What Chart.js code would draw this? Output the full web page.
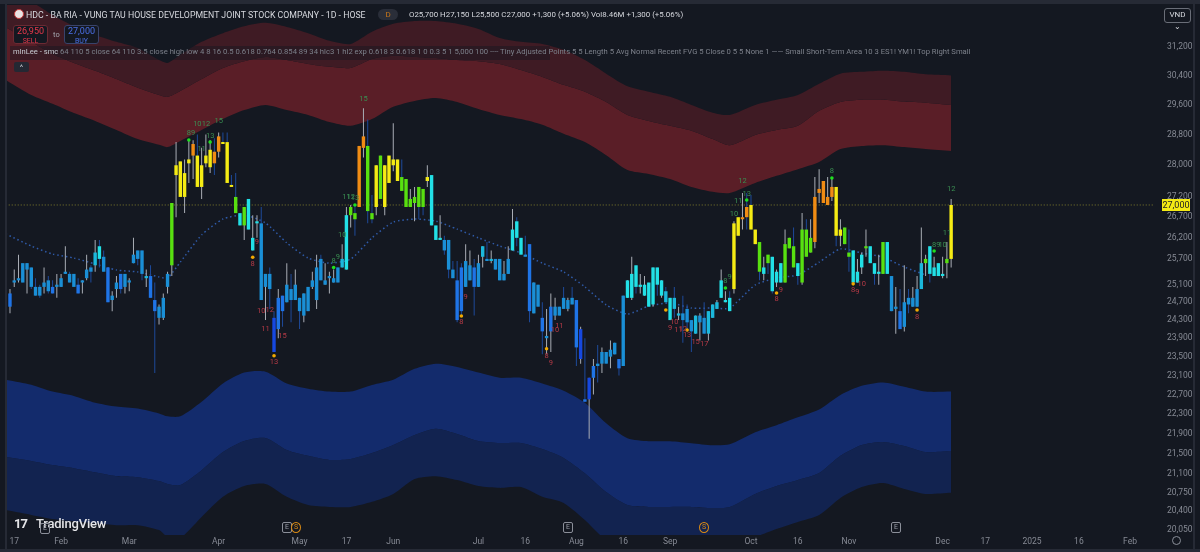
<!DOCTYPE html>
<html>
<head>
<meta charset="utf-8">
<title>HDC</title>
<script src="https://cdn.jsdelivr.net/npm/chart.js@4"></script>
<style>
html, body { margin: 0; padding: 0; background: #141821; overflow: hidden; }
#wrap { position: relative; width: 1200px; height: 552px; font-family: Roboto, sans-serif; }
canvas { position: absolute; left: 0; top: 0; }
.t { position: absolute; white-space: nowrap; line-height: 1; }
.box { position: absolute; box-sizing: border-box; border-radius: 3px; text-align: center; font-size: 9px; line-height: 9px; padding-top: 1px; }
.mark { position: absolute; box-sizing: border-box; width: 10px; height: 11px; border: 1px solid #8b8f99; border-radius: 2px; color: #9a9ea8; font-size: 7px; line-height: 9px; text-align: center; }
.frame { position: absolute; background: #262a35; }
</style>
</head>
<body>
<div id="wrap">
  <canvas id="grafico" width="1200" height="552"></canvas>

  <div class="frame" style="left:0;top:0;width:1200px;height:4px"></div>
  <div class="frame" style="left:5px;top:0;width:2px;height:552px"></div>
  <div class="frame" style="left:1193px;top:0;width:2px;height:552px"></div>
  <div class="frame" style="left:0;top:549px;width:1200px;height:3px"></div>

  <div style="position:absolute;left:14px;top:9px;width:10px;height:10px;border-radius:50%;background:#e9e3e3;border:1px solid #c83a3a;box-sizing:border-box"></div>
  <div class="t" style="left:26px;top:11px;font-size:8.75px;color:#d6d8de">HDC - BA RIA - VUNG TAU HOUSE DEVELOPMENT JOINT STOCK COMPANY - 1D - HOSE</div>
  <div class="t" style="left:378px;top:9px;width:20px;height:11px;border-radius:6px;background:#2a2e39;color:#c9771a;font-size:8px;line-height:11px;text-align:center">D</div>
  <div class="t" style="left:409px;top:11px;font-size:7.9px;color:#d6d8de">O25,700 H27,150 L25,500 C27,000 +1,300 (+5.06%) Vol8.46M +1,300 (+5.06%)</div>

  <div class="box" style="left:13px;top:25px;width:35px;height:19px;border:1px solid #6b2a33;color:#e8384a;background:#141821">26,950<br><span style="font-size:7px">SELL</span></div>
  <div class="t" style="left:53px;top:31px;font-size:7.5px;color:#a5a8b0">to</div>
  <div class="box" style="left:64px;top:25px;width:35px;height:19px;border:1px solid #39436b;color:#4a6fe8;background:#141821">27,000<br><span style="font-size:7px">BUY</span></div>

  <div style="position:absolute;left:10px;top:46px;width:540px;height:14px;background:rgba(20,24,33,.45)"></div>
  <div class="t" style="left:13px;top:48px;font-size:7.6px;color:#c9ccd3">mlnLee - smc</div>
  <div class="t" style="left:60px;top:48px;font-size:7.67px;color:#7d818b">64 110 5 close 64 110 3.5 close high low 4 8 16 0.5 0.618 0.764 0.854 89 34 hlc3 1 hl2 exp 0.618 3 0.618 1 0 0.3 5 1 5,000 100 ---- Tiny Adjusted Points 5 5 Length 5 Avg Normal Recent FVG 5 Close 0 5 5 None 1 —— Small Short-Term Area 10 3 ES1! YM1! Top Right Small</div>
  <div class="t" style="left:14px;top:62px;width:15px;height:10px;background:#242833;border-radius:2px;color:#c9ccd3;font-size:8px;line-height:11px;text-align:center">^</div>

  <div class="box" style="left:1164px;top:8px;width:27px;height:15px;border:1px solid #6a6e78;color:#d6d8de;font-size:8px;line-height:12px;padding-top:0">VND ⌄</div>

  <div class="t" style="left:14px;top:517px;font-size:13px;font-weight:700;color:#e4e5e8;letter-spacing:-1px">17</div>
  <div class="t" style="left:36px;top:517px;font-size:13px;font-weight:500;color:#e4e5e8;letter-spacing:-.2px">TradingView</div>

  <div class="mark" style="left:40px;top:523px">E</div>
  <div class="mark" style="left:282px;top:522px">E</div>
  <div class="mark" style="left:291px;top:522px;border-color:#d98a14;color:#d98a14;border-radius:50%">S</div>
  <div class="mark" style="left:563px;top:522px">E</div>
  <div class="mark" style="left:699px;top:522px;border-color:#d98a14;color:#d98a14;border-radius:50%">S</div>
  <div class="mark" style="left:891px;top:522px">E</div>
  <div style="position:absolute;left:1172px;top:536px;width:9px;height:9px;border:1px solid #8b8f99;border-radius:50%;box-sizing:border-box"></div>
</div>

<script>
// daily candles, prices in VND
const opens = [
    24600,25150,25200,25600,25450,25500,25050,25050,25050,25200,
    25050,25050,25050,25350,25350,25350,25100,25150,25250,25500,
    25550,26000,25750,25500,24750,25000,25350,25050,25150,25600,
    25900,25900,25250,25300,24750,24350,24350,25050,25550,27750,
    28100,27200,28050,28250,28250,27450,28050,27950,28350,28350,
    28600,28600,27500,27200,26800,26500,27150,25900,26550,26550,
    25050,25350,24350,24100,24850,24700,25000,24750,24800,24400,
    25050,25050,24750,25700,25100,25250,25150,25500,25500,25450,
    26750,26800,26950,28450,28500,26800,26950,28250,26950,28250,
    28000,28150,27700,27650,26950,27050,27450,27400,27600,27750,
    26500,26150,26150,26150,25450,25200,25500,25050,25200,25500,
    25050,25750,25700,25650,25700,25700,25200,25350,25900,26600,
    26200,25800,26050,24450,25100,24350,23900,24050,24400,24600,
    24800,24550,24800,24750,23450,22600,22600,23050,23350,23350,
    23600,23500,23550,23450,23300,24800,24800,25550,25050,24850,
    25150,24650,25500,24850,24950,24800,24800,24400,24450,24550,
    24300,24000,24250,24350,24000,24350,24550,24800,24700,24800,
    25000,26700,26650,26950,27000,26400,26100,25350,25800,25750,
    25150,25150,25150,25950,26000,25600,25150,26400,25850,26100,
    27300,27600,27000,27200,27450,26250,26450,25850,25900,25150,
    25500,25950,26000,25600,25350,25350,26100,25300,24550,24500,
    24150,24800,24600,24600,25000,25600,26000,25300,25600,25300,
    25600,25700
];
const highs = [
    25000,25450,25800,25600,25600,25500,25250,25100,25500,25300,
    25200,25350,25350,26000,25400,25350,25250,25200,25800,25550,
    26150,26150,25900,25500,24950,25300,25350,25350,25250,26200,
    25900,25900,25450,25550,25150,24650,24900,25400,27050,28600,
    28100,28150,28650,28650,28800,28450,28800,28650,28700,28850,
    28850,28850,27750,27800,26800,26950,27150,26750,26750,26950,
    25350,25500,24500,25000,24850,25600,25350,25450,24800,24900,
    25050,25400,25800,25800,25600,25400,25450,25500,26050,26950,
    27000,27000,28500,29500,29200,27250,28000,28250,28000,28250,
    29100,28150,28150,27650,27400,27450,27450,27400,28000,27750,
    26500,26750,26250,26150,25650,25650,25600,26050,25900,25700,
    25800,26000,26100,25900,25700,25700,25650,26000,26900,26700,
    26200,26250,26050,25150,25100,24700,24550,24900,24800,24600,
    25050,24800,25050,24750,24150,23900,23050,23450,23750,23700,
    23600,23850,23800,23450,24850,25200,25750,25550,25350,25300,
    25150,25500,25500,25200,25050,24800,25050,24600,24850,24650,
    24300,24400,24450,24700,24500,24650,24750,25450,24950,24950,
    26600,26700,27300,27300,27250,26400,26100,25750,25800,25750,
    25450,25600,26400,26200,26450,25600,26800,26650,26650,27700,
    27900,27600,27700,27700,27450,26650,26450,26400,25900,25700,
    25850,26400,26000,25600,25800,26100,26100,25300,25050,25000,
    25550,25000,25050,25300,26450,25800,26000,25750,25600,25750,
    26100,27150
];
const lows = [
    24450,25050,25150,25150,24900,25000,24850,24800,24900,24900,
    24900,24800,25050,25350,25150,25050,24900,24900,25200,25150,
    25400,25500,25400,24700,24500,24800,24900,24900,24950,25600,
    25550,25200,25050,24800,23150,24200,24300,24900,25300,26700,
    27200,26800,27550,27650,27450,27150,27950,27800,27750,28200,
    28550,27550,27450,26800,26500,26150,26400,25900,26200,24750,
    24300,24550,23600,23900,24150,24700,24250,24750,24100,24250,
    24500,25000,24550,25200,25100,24900,25150,25150,25500,25450,
    26450,26250,26950,28200,26550,26550,26750,27150,26750,27550,
    27850,27600,27350,26950,26950,26600,26650,26750,27450,26500,
    26150,26150,25800,25250,25250,24250,24400,25050,25200,24400,
    25050,25500,25650,25600,25450,25200,25200,25350,25900,26000,
    25800,25750,24250,24450,24600,23550,23550,23600,24300,24400,
    24550,24500,24650,23300,23350,22550,21800,22700,22950,23150,
    23350,23250,23550,23100,23300,24800,24750,24900,24900,24850,
    24600,24600,24850,24800,24700,24300,24350,24300,23800,24050,
    23600,24000,23850,24000,23850,24350,24550,24800,24700,24500,
    24900,26250,26400,26400,26400,26050,25200,25200,25350,24900,
    25050,25150,25150,25950,25500,25100,25100,25750,25850,25950,
    27050,27050,27000,27100,26000,26000,26050,25400,25150,25150,
    25350,25750,25600,25100,25100,25350,25350,24500,24000,24100,
    24050,24450,24600,24600,25000,25300,25150,25300,25300,25250,
    25250,25500
];
const closes = [
    24900,25200,25250,25150,25600,25050,24850,24850,25150,24950,
    24900,25100,25250,25400,25150,25050,24900,25200,25450,25400,
    25850,25700,25400,24700,24850,25150,25000,25350,25200,25800,
    25700,25350,25300,24800,24500,24600,24800,25350,27050,28000,
    27200,27800,28150,28550,27450,28000,28250,28400,28050,28750,
    28550,27550,27450,26800,26500,26950,26400,26200,26600,24750,
    25350,25000,23600,24800,24500,25100,24750,25100,24500,24900,
    24500,25200,25500,25200,25200,25300,25250,25150,25700,26750,
    26950,26650,28500,28750,26850,26650,28000,27150,28000,27550,
    28150,27600,27350,26950,27150,27200,26950,26950,27700,26500,
    26150,26200,25900,25450,25250,24300,24500,25650,25550,25050,
    25600,26000,25650,25700,25450,25200,25350,25700,26400,26200,
    25800,25750,24500,25150,24600,24050,23950,24600,24600,24400,
    24550,24750,24650,23700,24100,22550,23050,23300,23300,23600,
    23350,23650,23800,23250,24850,25200,25350,25050,25100,25100,
    24600,25500,25100,25200,24700,24300,24550,24450,24300,24250,
    24050,24400,24400,24000,24500,24650,24700,25200,24750,24500,
    26550,26250,26700,26700,26400,26050,25400,25500,25600,24950,
    25400,25600,26050,26200,25500,25300,26400,25750,26200,27200,
    27400,27050,27200,27450,26250,26400,26050,25750,25150,25400,
    25800,26000,25600,25350,25400,26100,25350,24500,24600,24100,
    24700,24650,24800,25000,25600,25700,25350,25500,25300,25350,
    25700,27000
];
// trend state of each candle, 0 = strongest down ... 7 = strongest up
const trendState = [
    1,2,2,2,2,2,2,2,2,2, 1,2,2,2,2,2,1,2,2,2,
    3,4,2,1,2,2,1,2,2,2, 2,2,3,1,1,2,2,2,5,6,
    6,6,6,7,6,6,6,6,7,7, 6,6,6,5,4,5,4,4,4,2,
    2,2,0,1,1,2,2,2,2,2, 2,2,2,2,2,2,2,2,3,4,
    5,5,7,7,5,5,6,5,6,6, 6,6,5,5,5,5,5,5,6,4,
    4,4,2,2,2,1,1,2,2,1, 2,3,2,3,2,2,2,2,4,4,
    4,2,1,2,2,1,2,1,2,2, 2,2,2,1,0,1,0,1,2,2,
    2,2,2,1,2,4,4,4,4,4, 4,4,4,4,3,4,3,3,2,2,
    2,3,2,2,3,3,3,4,4,4, 6,6,7,7,6,6,5,4,5,4,
    4,4,5,5,5,4,5,5,5,7, 7,7,7,7,6,6,5,5,4,4,
    4,5,4,4,4,5,4,2,2,1, 2,2,2,2,3,5,4,4,4,4,
    5,6
];

// envelope lines sampled on these candles
const bandDays = [-1,5,10,15,20,25,30,35,37,40,45,50,55,60,65,70,75,80,85,90,95,100,105,110,115,120,125,130,135,140,145,150,155,160,165,169,175,180,185,190,195,200,205,210,215,221];
const redOuter = [32550,32500,32130,31800,31550,31350,31170,30830,30750,30980,31350,31600,31800,31900,31780,31600,31380,31290,31640,31870,31950,31950,31870,31720,31460,31350,31290,31120,30830,30450,30100,29950,29810,29590,29380,29320,29590,29730,29860,30170,30450,30500,30530,30500,30430,30400];
const redMiddle = [31770,31350,31000,30750,30530,30300,30060,29860,29810,29970,30300,30610,30800,30920,30830,30720,30640,30610,30860,30950,30920,30890,30830,30800,30720,30550,30360,30140,29950,29670,29320,29160,29030,28900,28680,28520,28790,28920,29030,29430,29670,29730,29730,29680,29650,29590];
const redInner = [30276,29860,29620,29370,29160,28920,28680,28530,28470,28630,28920,29210,29450,29590,29450,29320,29130,29030,29210,29540,29700,29780,29670,29480,29320,29210,29060,28820,28600,28260,27880,27780,27650,27450,27330,27300,27550,27730,27900,28085,28420,28500,28520,28470,28420,28370];
const blueInner = [23010,22905,22760,22670,22530,22450,22410,22310,22250,22250,22550,22930,23160,23180,22930,22820,22760,22760,22900,23010,23240,23350,23280,23160,23050,23050,22930,22780,22530,22110,21810,21750,21750,21710,21670,21690,21930,22070,22230,22390,22690,22880,22950,22860,22760,22760];
const blueMiddle = [21440,21360,21280,21220,21140,21065,21045,20970,20915,20895,21180,21535,21755,21815,21575,21460,21380,21400,21515,21675,21875,22000,21895,21755,21715,21715,21595,21420,21120,20760,20515,20480,20480,20480,20460,20480,20725,20875,20990,21125,21460,21675,21735,21655,21535,21555];
const blueOuter = [20420,20330,20255,20215,20180,20140,20140,20050,19925,19905,20290,20670,20875,20915,20670,20515,20480,20480,20575,20725,21010,21065,20990,20875,20840,20855,20670,20555,20235,19870,19760,19745,19725,19725,19745,19780,19925,20070,20200,20330,20650,20855,20935,20820,20725,20745];
const dottedBasis = [26295,26005,25815,25720,25580,25440,25395,25280,25255,25625,26270,26655,26755,26560,26080,25720,25600,25695,26200,26580,26655,26605,26410,26200,26005,25840,25600,25395,25050,24640,24435,24615,24685,24570,24570,24570,25095,25255,25325,25625,25935,25840,25740,25510,25325,null];

// small markers and counter numbers
const greenDotDays = [42,47,76,81,168,173,193,217];
const greenDotPrices = [28655,28600,25500,27000,25025,27125,27675,25885];
const orangeDotDays = [57,62,106,126,154,159,180,198,213];
const orangeDotPrices = [25740,23520,24390,23670,24525,24080,24910,25120,24525];
const greenCountDays = [42,43,44,46,45,47,49,83,76,77,78,79,80,81,172,173,171,170,169,168,193,217,218,219,220,221];
const greenCountPrices = [28840,28840,29080,29080,28420,28760,29160,29750,25650,25740,26270,27200,27200,27175,27600,27275,27100,26780,25280,25185,27855,26030,26030,26030,26315,27400];
const greenCountTexts = ['8','9','10','12','11','13','15','15','8','9','10','11','12','13','12','13','11','10','9','8','8','8','9','10','11','12'];
const redCountDays = [58,57,59,61,60,64,62,107,106,128,129,126,127,155,156,157,158,159,161,163,181,180,198,199,200,213];
const redCountPrices = [26100,25580,24505,24525,24100,23950,23390,24820,24255,24080,24170,23520,23365,24125,24255,24080,24100,23975,23820,23780,24980,24775,24980,24935,25120,24365];
const redCountTexts = ['9','8','10','12','11','15','13','9','8','10','11','8','9','9','10','11','12','13','15','17','9','8','8','9','10','8'];

// axes
const priceTicks = [31200,30400,29600,28800,28000,27200,26700,26200,25700,25100,24700,24300,23900,23500,23100,22700,22300,21900,21500,21100,20750,20400,20050];
const timeTickDays = [1,12,28,49,68,79,90,110,121,133,144,155,174,185,197,219,229,240,251,263];
const timeTickLabels = ['17','Feb','Mar','Apr','May','17','Jun','Jul','16','Aug','16','Sep','Oct','16','Nov','Dec','17','2025','16','Feb'];
const lastClose = 27000;

const stateColors = ['#1648e0','#1f74e6','#1a8fd6','#1bb8dc','#22e0e6','#58e010','#f5eb14','#f08c14'];
const wickUp = '#a9adb5';
const wickDown = '#1e4a9a';

function pontos(dias, valores) {
    return dias.map((d, k) => ({ x: d, y: valores[k] }));
}

function banda(valores, cor) {
    return {
        type: 'line',
        data: pontos(bandDays, valores),
        borderWidth: 0,
        pointRadius: 0,
        tension: 0.25,
        fill: cor ? '+1' : false,
        backgroundColor: cor || 'transparent',
        order: 9
    };
}

function marcador(dias, valores, cor) {
    return {
        type: 'scatter',
        data: pontos(dias, valores),
        pointRadius: 1.8,
        pointBackgroundColor: cor,
        pointBorderWidth: 0,
        order: 1
    };
}

// the plot area has to stay put, labels must not push it in
function semPadding(scale) {
    scale.paddingTop = 0;
    scale.paddingBottom = 0;
    scale.paddingLeft = 0;
    scale.paddingRight = 0;
}

const wicks = closes.map((c, i) => ({ x: i, y: [lows[i], highs[i]] }));
const bodies = closes.map((c, i) => ({ x: i, y: [opens[i], c] }));

// numbers next to the candles and the yellow price tag
const textos = {
    id: 'textos',
    afterDatasetsDraw(chart) {
        const { ctx, scales } = chart;
        ctx.save();
        ctx.font = '7.5px Roboto, sans-serif';
        ctx.textAlign = 'center';
        ctx.textBaseline = 'middle';
        ctx.fillStyle = '#3a8f52';
        greenCountTexts.forEach((t, k) => {
            ctx.fillText(t, scales.x.getPixelForValue(greenCountDays[k]), scales.y.getPixelForValue(greenCountPrices[k]));
        });
        ctx.fillStyle = '#b53a46';
        redCountTexts.forEach((t, k) => {
            ctx.fillText(t, scales.x.getPixelForValue(redCountDays[k]), scales.y.getPixelForValue(redCountPrices[k]));
        });
        ctx.restore();
    },
    afterDraw(chart) {
        const { ctx, scales } = chart;
        const py = scales.y.getPixelForValue(lastClose);
        ctx.save();
        ctx.fillStyle = '#f5eb14';
        ctx.fillRect(1162, py - 6, 28, 12);
        ctx.fillStyle = '#222';
        ctx.font = '9px Roboto, sans-serif';
        ctx.textAlign = 'center';
        ctx.textBaseline = 'middle';
        ctx.fillText(lastClose.toLocaleString('en-US'), 1176, py + 0.5);
        ctx.restore();
    }
};

new Chart(document.getElementById('grafico').getContext('2d'), {
    type: 'bar',
    data: {
        datasets: [
            banda(redOuter, '#3f1b24'),
            banda(redMiddle, '#5a1e27'),
            banda(redInner, null),
            banda(blueInner, '#132b6c'),
            banda(blueMiddle, '#122350'),
            banda(blueOuter, null),
            {
                type: 'line',
                data: pontos(bandDays, dottedBasis),
                borderColor: '#2f5aa8',
                borderWidth: 1.5,
                borderDash: [1.5, 2.8],
                pointRadius: 0,
                tension: 0.2,
                order: 5
            },
            {
                type: 'line',
                data: [{ x: -1, y: lastClose }, { x: 269, y: lastClose }],
                borderColor: '#7f7d2c',
                borderWidth: 1,
                borderDash: [1, 2],
                pointRadius: 0,
                order: 4
            },
            {
                data: wicks,
                grouped: false,
                barPercentage: 1,
                maxBarThickness: 1,
                backgroundColor: closes.map((c, i) => (c >= opens[i] ? wickUp : wickDown)),
                order: 3
            },
            {
                data: bodies,
                grouped: false,
                barPercentage: 1,
                maxBarThickness: 3.7,
                minBarLength: 2,
                backgroundColor: trendState.map(s => stateColors[s]),
                order: 2
            },
            marcador(greenDotDays, greenDotPrices, '#1fe01f'),
            marcador(orangeDotDays, orangeDotPrices, '#f2a900')
        ]
    },
    options: {
        responsive: false,
        animation: false,
        layout: { padding: { left: 7, top: 5, right: 0, bottom: 0 } },
        plugins: { legend: { display: false }, tooltip: { enabled: false } },
        scales: {
            x: {
                type: 'linear',
                offset: false,
                bounds: 'data',
                min: -0.7,
                max: 268.4,
                grid: { display: false, drawTicks: false },
                border: { display: false },
                afterBuildTicks(scale) {
                    scale.ticks = timeTickDays.map(d => ({ value: d }));
                },
                afterFit(scale) {
                    scale.height = 17;
                    semPadding(scale);
                },
                ticks: {
                    autoSkip: false,
                    maxRotation: 0,
                    padding: 2,
                    color: '#868a94',
                    font: { size: 8.5, family: 'Roboto, sans-serif' },
                    callback(v) { return timeTickLabels[timeTickDays.indexOf(v)]; }
                }
            },
            y: {
                type: 'logarithmic',
                position: 'right',
                bounds: 'data',
                min: 19960,
                max: 32425,
                grid: { display: false, drawTicks: false },
                border: { display: false },
                afterBuildTicks(scale) {
                    scale.ticks = priceTicks.map(v => ({ value: v }));
                },
                afterFit(scale) {
                    scale.width = 47;
                    semPadding(scale);
                },
                ticks: {
                    autoSkip: false,
                    padding: 14,
                    color: '#868a94',
                    font: { size: 8.5, family: 'Roboto, sans-serif' },
                    callback(v) { return v.toLocaleString('en-US'); }
                }
            }
        }
    },
    plugins: [textos]
});
</script>
</body>
</html>
